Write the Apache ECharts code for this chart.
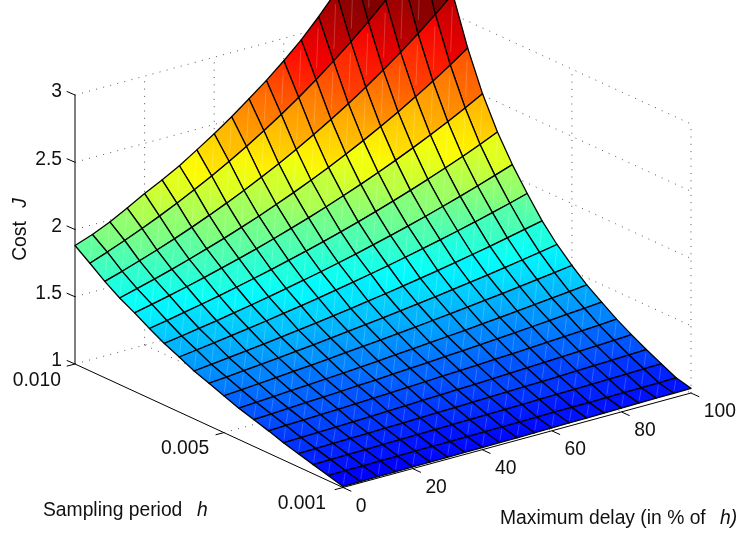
<!DOCTYPE html>
<html><head><meta charset="utf-8">
<style>html,body{margin:0;padding:0;background:#fff}#c{width:740px;height:533px}</style>
<script src="https://cdn.jsdelivr.net/npm/echarts@6/dist/echarts.min.js"></script>
</head><body><div id="c"></div>
<script>
const samplingPeriods=[0.001,0.0015,0.002,0.0025,0.003,0.0035,0.004,0.0045,0.005,0.0055,0.006,0.0065,0.007,0.0075,0.008,0.0085,0.009,0.0095,0.010];
const maxDelays=[0,5,10,15,20,25,30,35,40,45,50,55,60,65,70,75,80,85,90,95,100];
const cost=[
[1.008,1.009,1.010,1.011,1.012,1.013,1.014,1.015,1.016,1.017,1.018,1.020,1.021,1.023,1.024,1.026,1.028,1.030,1.032,1.033,1.035],
[1.038,1.039,1.040,1.041,1.042,1.043,1.044,1.045,1.046,1.047,1.048,1.049,1.050,1.052,1.053,1.054,1.056,1.057,1.058,1.060,1.062],
[1.068,1.070,1.072,1.074,1.076,1.078,1.080,1.082,1.084,1.086,1.088,1.091,1.093,1.096,1.098,1.101,1.103,1.106,1.109,1.112,1.115],
[1.098,1.101,1.104,1.106,1.109,1.112,1.115,1.119,1.122,1.125,1.129,1.132,1.136,1.140,1.143,1.147,1.152,1.156,1.160,1.165,1.170],
[1.128,1.132,1.136,1.140,1.144,1.148,1.153,1.157,1.162,1.167,1.172,1.177,1.182,1.187,1.193,1.199,1.205,1.211,1.217,1.223,1.230],
[1.166,1.171,1.176,1.181,1.186,1.191,1.197,1.203,1.209,1.215,1.221,1.227,1.234,1.240,1.247,1.255,1.262,1.270,1.277,1.285,1.294],
[1.199,1.205,1.212,1.219,1.225,1.232,1.240,1.247,1.255,1.263,1.271,1.280,1.289,1.298,1.307,1.317,1.327,1.337,1.348,1.359,1.370],
[1.233,1.241,1.249,1.257,1.265,1.274,1.283,1.292,1.302,1.312,1.322,1.333,1.344,1.355,1.367,1.379,1.392,1.405,1.418,1.432,1.447],
[1.274,1.283,1.293,1.303,1.314,1.325,1.336,1.348,1.360,1.372,1.385,1.398,1.412,1.426,1.441,1.456,1.472,1.488,1.505,1.522,1.540],
[1.316,1.327,1.339,1.351,1.364,1.377,1.391,1.405,1.420,1.435,1.451,1.467,1.484,1.502,1.520,1.539,1.558,1.578,1.600,1.622,1.645],
[1.356,1.370,1.385,1.400,1.415,1.432,1.449,1.466,1.485,1.504,1.524,1.544,1.565,1.588,1.611,1.635,1.660,1.686,1.713,1.741,1.770],
[1.409,1.426,1.444,1.462,1.481,1.501,1.522,1.544,1.566,1.590,1.614,1.640,1.666,1.694,1.723,1.753,1.784,1.816,1.850,1.885,1.922],
[1.459,1.479,1.500,1.522,1.545,1.569,1.594,1.621,1.648,1.676,1.706,1.737,1.770,1.804,1.839,1.876,1.915,1.955,1.997,2.041,2.086],
[1.519,1.543,1.568,1.594,1.621,1.650,1.680,1.711,1.744,1.778,1.814,1.851,1.890,1.931,1.974,2.019,2.066,2.115,2.166,2.220,2.277],
[1.584,1.612,1.642,1.673,1.706,1.741,1.777,1.814,1.854,1.896,1.939,1.985,2.033,2.083,2.136,2.191,2.249,2.309,2.373,2.440,2.510],
[1.644,1.678,1.714,1.751,1.791,1.833,1.876,1.923,1.971,2.023,2.076,2.133,2.193,2.256,2.322,2.392,2.465,2.542,2.623,2.709,2.800],
[1.716,1.756,1.799,1.844,1.892,1.942,1.996,2.052,2.111,2.174,2.240,2.310,2.385,2.463,2.545,2.633,2.725,2.822,2.925,3.034,3.150],
[1.800,1.848,1.899,1.953,2.010,2.071,2.135,2.203,2.276,2.352,2.434,2.520,2.611,2.708,2.811,2.919,3.035,3.157,3.287,3.424,3.570],
[1.881,1.928,1.986,2.054,2.127,2.193,2.263,2.346,2.431,2.522,2.621,2.722,2.833,2.953,3.090,3.240,3.380,3.530,3.700,3.880,4.070]
];
const costTicks=[1,1.5,2,2.5,3];
const costTickLabels=['1','1.5','2','2.5','3'];
const periodTicks=[0.010,0.005,0.001];
const periodTickLabels=['0.010','0.005','0.001'];
const delayTicks=[0,20,40,60,80,100];
const delayTickLabels=['0','20','40','60','80','100'];

const CMIN=0.68,CMAX=3.18;
function jet(z){
  let t=Math.max(0,Math.min(1,(z-CMIN)/(CMAX-CMIN)));
  t=Math.min(63,Math.floor(t*64))/63;
  const f=v=>Math.round(255*Math.max(0,Math.min(1,1.5-Math.abs(4*t-v))));
  return 'rgb('+f(3)+','+f(2)+','+f(1)+')';
}
function proj(h,d,z){
  const u=(0.010-h)/0.009,v=d/100;
  return [75+u*268+v*348, 364+u*123.5-v*94.5-(z-1)*134.5];
}
const H0=0.010,H1=0.001,D1=100,Z0=1,Z1=3;
const FONT='19.3px "Liberation Sans", Arial, sans-serif';
const FONTI='italic 19.3px "Liberation Sans", Arial, sans-serif';

const dotted=[];
costTicks.forEach(z=>{ dotted.push([H0,0,z,H0,D1,z]); dotted.push([H0,D1,z,H1,D1,z]); });
delayTicks.forEach(d=>{ if(d>0){ dotted.push([H0,d,Z0,H0,d,Z1]); } if(d>0&&d<100) dotted.push([H0,d,Z0,H1,d,Z0]); });
dotted.push([0.005,D1,Z0,0.005,D1,Z1]);
dotted.push([0.005,0,Z0,0.005,D1,Z0]);
dotted.push([H1,D1,Z0,H1,D1,Z1]);
const solid=[[H0,0,Z0,H0,0,Z1],[H0,0,Z0,H1,0,Z0],[H1,0,Z0,H1,D1,Z0]];

const ticks=[];
costTicks.forEach(z=>ticks.push(['z',z]));
periodTicks.forEach(h=>ticks.push(['h',h]));
delayTicks.forEach(d=>ticks.push(['d',d]));

const cells=[];
for(let i=samplingPeriods.length-2;i>=0;i--)for(let j=maxDelays.length-2;j>=0;j--)cells.push([i,j]);

const labelItems=[];
costTickLabels.forEach((t,k)=>{const p=proj(H0,0,costTicks[k]);labelItems.push({t,x:p[0]-13,y:p[1]-3,a:'right',f:FONT});});
const periodNudge=[-14,-14.6,-17];
periodTickLabels.forEach((t,k)=>{const p=proj(periodTicks[k],0,Z0);labelItems.push({t,x:p[0]+periodNudge[k],y:p[1]+16.2,a:'right',f:FONT});});
delayTickLabels.forEach((t,k)=>{const p=proj(H1,delayTicks[k],Z0);labelItems.push({t,x:p[0]+12.8,y:p[1]+19,a:'left',f:FONT});});
labelItems.push({t:'Sampling period',x:43,y:511,a:'left',f:FONT});
labelItems.push({t:'h',x:197,y:511,a:'left',f:FONTI});
labelItems.push({t:'Maximum delay (in % of',x:500,y:518.5,a:'left',f:FONT});
labelItems.push({t:'h)',x:720,y:518.5,a:'left',f:FONTI});
labelItems.push({t:'Cost',x:21,y:241,a:'center',f:FONT,r:Math.PI/2});
labelItems.push({t:'J',x:21,y:203,a:'center',f:FONTI,r:Math.PI/2});

const chart=echarts.init(document.getElementById('c'),null,{renderer:'canvas'});
function segSeries(list,style,z){
  return {type:'custom',coordinateSystem:'cartesian2d',silent:true,clip:false,z,
    data:list.map((_,k)=>[k,k]),
    renderItem(params,api){
      const s=list[params.dataIndex];
      const a=api.coord(proj(s[0],s[1],s[2])),b=api.coord(proj(s[3],s[4],s[5]));
      return {type:'line',shape:{x1:a[0],y1:a[1],x2:b[0],y2:b[1]},style};
    }};
}
chart.setOption({
  animation:false,
  grid:{left:0,right:0,top:0,bottom:0},
  xAxis:{type:'value',min:0,max:740,show:false},
  yAxis:{type:'value',min:0,max:533,inverse:true,show:false},
  series:[
    segSeries(dotted,{stroke:'#555',lineWidth:1,lineDash:[1,6.3],fill:null},1),
    segSeries(solid,{stroke:'#000',lineWidth:1,fill:null},2),
    {type:'custom',coordinateSystem:'cartesian2d',silent:true,clip:false,z:2,
      data:ticks.map((_,k)=>[k,k]),
      renderItem(params,api){
        const t=ticks[params.dataIndex];
        let a,dx,dy;
        if(t[0]==='z'){a=proj(H0,0,t[1]);dx=-8.3;dy=-3.6;}
        else if(t[0]==='h'){a=proj(t[1],0,Z0);dx=-8.3;dy=2.2;}
        else {a=proj(H1,t[1],Z0);dx=8.3;dy=3.8;}
        const p=api.coord(a),q=api.coord([a[0]+dx,a[1]+dy]);
        return {type:'line',shape:{x1:p[0],y1:p[1],x2:q[0],y2:q[1]},style:{stroke:'#000',lineWidth:1,fill:null}};
      }},
    {type:'custom',coordinateSystem:'cartesian2d',silent:true,clip:false,z:3,
      data:cells,
      renderItem(params,api){
        const i=api.value(0),j=api.value(1);
        const P=(a,b)=>api.coord(proj(samplingPeriods[a],maxDelays[b],cost[a][b]));
        const A=P(i,j),B=P(i+1,j),C=P(i+1,j+1),D=P(i,j+1);
        const z0=cost[i][j],z1=cost[i+1][j+1];
        const g={type:'linear',global:true,x:A[0],y:A[1],x2:C[0],y2:C[1],
          colorStops:[{offset:0,color:jet(z0+(z1-z0)*0.36)},{offset:1,color:jet(z0+(z1-z0)*0.64)}]};
        const mid=(s)=>[A[0]+(C[0]-A[0])*s,A[1]+(C[1]-A[1])*s];
        const m1=mid(0.18),m2=mid(0.82);
        return {type:'group',children:[
          {type:'polygon',shape:{points:[A,B,C,D]},style:{fill:g,stroke:'#000',lineWidth:1.3,lineJoin:'round'}},
          {type:'line',shape:{x1:m1[0],y1:m1[1],x2:m2[0],y2:m2[1]},style:{stroke:'rgba(255,255,255,0.25)',lineWidth:0.8,fill:null}}
        ]};
      }},
    {type:'custom',coordinateSystem:'cartesian2d',silent:true,clip:false,z:4,
      data:labelItems.map((_,k)=>[k,k]),
      renderItem(params,api){
        const l=labelItems[params.dataIndex];
        const p=api.coord([l.x,l.y]);
        return {type:'text',x:p[0],y:p[1],rotation:l.r||0,
          style:{text:l.t,x:0,y:0,fill:'#111',font:l.f,textAlign:l.a,textVerticalAlign:'middle',align:l.a,verticalAlign:'middle'}};
      }}
  ]
});
</script></body></html>
